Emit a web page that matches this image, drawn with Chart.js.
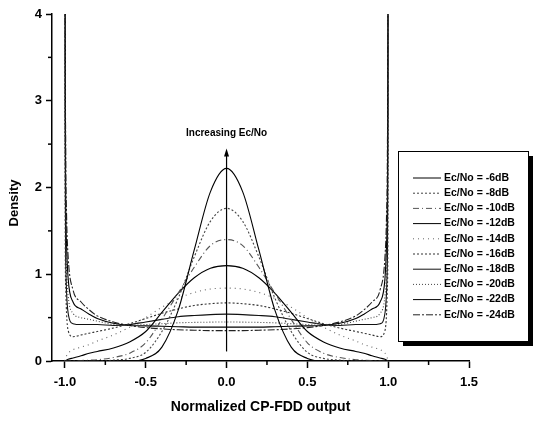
<!DOCTYPE html>
<html>
<head>
<meta charset="utf-8">
<script src="https://cdn.jsdelivr.net/npm/chart.js@4.4.0/dist/chart.umd.min.js"></script>
<style>
  html, body { margin: 0; padding: 0; background: #fff; }
  canvas { display: block; }
</style>
</head>
<body>
<canvas id="chart" width="537" height="421"></canvas>
<script>
// x positions shared by every curve (normalized CP-FDD output)
var xs = [-1, -0.999, -0.995, -0.99, -0.98, -0.95, -0.9, -0.85, -0.8, -0.7, -0.6, -0.5, -0.4, -0.3, -0.2, -0.1,
  0, 0.1, 0.2, 0.3, 0.4, 0.5, 0.6, 0.7, 0.8, 0.85, 0.9, 0.95, 0.98, 0.99, 0.995, 0.999, 1];

// density, one array per Ec/No
var d6  = [0,0,0,0,0,0,0,0,0,0,0,0.03,0.16,0.58,1.28,1.95, 2.22, 1.95,1.28,0.58,0.16,0.03,0,0,0,0,0,0,0,0,0,0,0];
var d8  = [0,0,0,0,0,0,0,0,0,0.01,0.03,0.10,0.34,0.72,1.20,1.61, 1.76, 1.61,1.20,0.72,0.34,0.10,0.03,0.01,0,0,0,0,0,0,0,0,0];
var d10 = [0,0,0,0,0,0,0.005,0.01,0.015,0.04,0.09,0.21,0.48,0.78,1.08,1.33, 1.40, 1.33,1.08,0.78,0.48,0.21,0.09,0.04,0.015,0.01,0.005,0,0,0,0,0,0];
var d12 = [0,0,0.005,0.01,0.02,0.035,0.06,0.09,0.11,0.15,0.22,0.34,0.56,0.78,0.96,1.07, 1.10, 1.07,0.96,0.78,0.56,0.34,0.22,0.15,0.11,0.09,0.06,0.035,0.02,0.01,0.005,0,0];
var d14 = [0,0.01,0.03,0.06,0.09,0.13,0.16,0.19,0.23,0.30,0.39,0.50,0.62,0.72,0.79,0.83, 0.84, 0.83,0.79,0.72,0.62,0.50,0.39,0.30,0.23,0.19,0.16,0.13,0.09,0.06,0.03,0.01,0];
var d16 = [8,2.0,0.85,0.55,0.35,0.28,0.30,0.32,0.34,0.38,0.43,0.49,0.55,0.60,0.64,0.66, 0.67, 0.66,0.64,0.60,0.55,0.49,0.43,0.38,0.34,0.32,0.30,0.28,0.35,0.55,0.85,2.0,8];
var d18 = [8,2.8,1.15,0.8,0.55,0.43,0.42,0.42,0.42,0.41,0.42,0.45,0.48,0.51,0.525,0.535, 0.54, 0.535,0.525,0.51,0.48,0.45,0.42,0.41,0.42,0.42,0.42,0.43,0.55,0.8,1.15,2.8,8];
var d20 = [8,3.6,1.5,1.05,0.75,0.55,0.50,0.48,0.46,0.42,0.41,0.42,0.43,0.44,0.445,0.448, 0.45, 0.448,0.445,0.44,0.43,0.42,0.41,0.42,0.46,0.48,0.50,0.55,0.75,1.05,1.5,3.6,8];
var d22 = [8,4.5,1.9,1.35,0.95,0.68,0.60,0.54,0.49,0.435,0.41,0.405,0.40,0.395,0.39,0.39, 0.39, 0.39,0.39,0.395,0.40,0.405,0.41,0.435,0.49,0.54,0.60,0.68,0.95,1.35,1.9,4.5,8];
var d24 = [8,5,2.4,1.7,1.2,0.82,0.68,0.59,0.52,0.45,0.41,0.385,0.37,0.36,0.355,0.35, 0.35, 0.35,0.355,0.36,0.37,0.385,0.41,0.45,0.52,0.59,0.68,0.82,1.2,1.7,2.4,5,8];

var labels = ['Ec/No = -6dB', 'Ec/No = -8dB', 'Ec/No = -10dB', 'Ec/No = -12dB', 'Ec/No = -14dB',
  'Ec/No = -16dB', 'Ec/No = -18dB', 'Ec/No = -20dB', 'Ec/No = -22dB', 'Ec/No = -24dB'];
var series = [d6, d8, d10, d12, d14, d16, d18, d20, d22, d24];

var xMinor = [-0.75, -0.25, 0.25, 0.75, 1.25];
var yMinor = [0.5, 1.5, 2.5, 3.5];

var colors = ['#000', '#444', '#555', '#000', '#666', '#333', '#111', '#444', '#000', '#222'];
var dashes = [[], [2, 2], [6, 3, 1, 3], [], [1, 4], [2, 2], [], [1, 2], [], [7, 2, 2, 2]];

var FONT = "'Liberation Sans', Arial, sans-serif";

var datasets = series.map(function (s, k) {
  return {
    label: labels[k],
    data: xs.map(function (x, i) { return { x: x, y: s[i] }; }),
    showLine: true,
    pointRadius: 0,
    borderWidth: 1.1,
    borderColor: colors[k],
    borderDash: dashes[k],
    cubicInterpolationMode: 'monotone',
    fill: false
  };
});

function seg(ctx, x1, y1, x2, y2) {
  ctx.beginPath(); ctx.moveTo(x1, y1); ctx.lineTo(x2, y2); ctx.stroke();
}

var extras = {
  id: 'extras',
  afterDraw: function (chart) {
    var ctx = chart.ctx, sx = chart.scales.x, sy = chart.scales.y, a = chart.chartArea;
    ctx.save();
    ctx.strokeStyle = '#000';
    ctx.lineWidth = 1.5;
    xMinor.forEach(function (v) { var p = sx.getPixelForValue(v); seg(ctx, p, a.bottom, p, a.bottom + 4); });
    yMinor.forEach(function (v) { var p = sy.getPixelForValue(v); seg(ctx, a.left, p, a.left - 4, p); });

    // arrow + annotation
    var ax = sx.getPixelForValue(0);
    var y0 = sy.getPixelForValue(0.11), y1 = sy.getPixelForValue(2.45);
    ctx.lineWidth = 1.2;
    seg(ctx, ax, y0, ax, y1 + 6);
    ctx.fillStyle = '#000';
    ctx.beginPath(); ctx.moveTo(ax, y1); ctx.lineTo(ax - 2.5, y1 + 8); ctx.lineTo(ax + 2.5, y1 + 8); ctx.closePath(); ctx.fill();
    ctx.font = 'bold 10px ' + FONT;
    ctx.textAlign = 'center'; ctx.textBaseline = 'middle';
    ctx.fillText('Increasing Ec/No', ax, sy.getPixelForValue(2.62));

    // y title
    ctx.save();
    ctx.translate(14, 203);
    ctx.rotate(-Math.PI / 2);
    ctx.font = 'bold 13px ' + FONT;
    ctx.fillText('Density', 0, 0);
    ctx.restore();

    // legend box with shadow
    var bx = 398, by = 151, bw = 130, bh = 190;
    ctx.fillStyle = '#000';
    ctx.fillRect(bx + 5, by + 5, bw, bh);
    ctx.fillStyle = '#fff';
    ctx.fillRect(bx, by, bw, bh);
    ctx.lineWidth = 1;
    ctx.strokeRect(bx + 0.5, by + 0.5, bw, bh);
    ctx.font = 'bold 10.5px ' + FONT;
    ctx.textAlign = 'left';
    chart.data.datasets.forEach(function (ds, k) {
      var ry = 178 + k * 15.2;
      ctx.strokeStyle = ds.borderColor;
      ctx.setLineDash(ds.borderDash);
      seg(ctx, 413, ry, 441, ry);
      ctx.setLineDash([]);
      ctx.fillStyle = '#000';
      ctx.fillText(ds.label, 444, ry);
    });
    ctx.restore();
  }
};

new Chart(document.getElementById('chart'), {
  type: 'scatter',
  data: { datasets: datasets },
  options: {
    responsive: false,
    animation: false,
    layout: { padding: { top: 14, right: 68, left: 0, bottom: 0 } },
    plugins: { legend: { display: false }, tooltip: { enabled: false } },
    scales: {
      x: {
        type: 'linear',
        min: -1.08,
        max: 1.5,
        afterFit: function (s) { s.height = 60; },
        border: { display: true, color: '#000', width: 1.5 },
        grid: { drawOnChartArea: false, drawTicks: true, tickLength: 7, tickColor: '#000', tickWidth: 1.5 },
        ticks: {
          stepSize: 0.5,
          includeBounds: false,
          padding: 7,
          color: '#000',
          font: { family: FONT, size: 13, weight: 'bold' },
          callback: function (v) { return v.toFixed(1); }
        },
        title: {
          display: true,
          text: 'Normalized CP-FDD output',
          color: '#000',
          font: { family: FONT, size: 14, weight: 'bold' },
          padding: { top: 0, bottom: 5 }
        }
      },
      y: {
        min: 0,
        max: 4,
        afterFit: function (s) { s.width = 52; },
        border: { display: true, color: '#000', width: 1.5 },
        grid: { drawOnChartArea: false, drawTicks: true, tickLength: 6, tickColor: '#000', tickWidth: 1.5 },
        ticks: {
          stepSize: 1,
          padding: 4,
          color: '#000',
          font: { family: FONT, size: 13, weight: 'bold' }
        }
      }
    }
  },
  plugins: [extras]
});
</script>
</body>
</html>
